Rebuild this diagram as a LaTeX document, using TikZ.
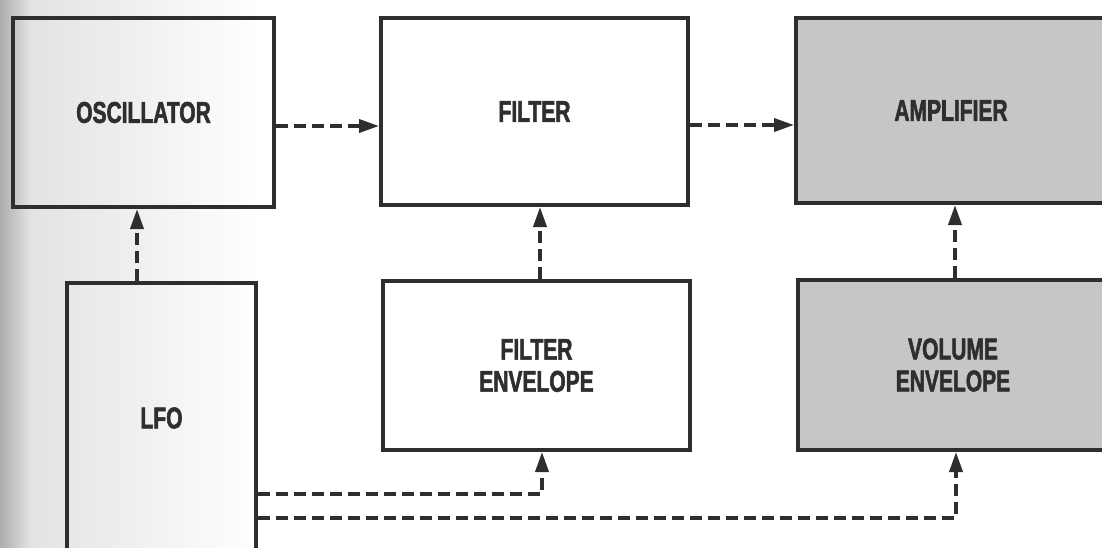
\documentclass[tikz,border=0pt]{standalone}
\usepackage{fontspec}
\newfontfamily\labfont[FakeStretch=0.70,FakeBold=1.8]{Liberation Sans}
\usetikzlibrary{arrows.meta}
\definecolor{ink}{HTML}{2E2E2E}
\definecolor{shade}{HTML}{C6C6C6}
\tikzset{
  box/.style={draw=ink, line width=4pt, rectangle, inner sep=0pt, align=center,
    font=\labfont\bfseries\fontsize{30}{32}\selectfont, text=ink},
  graybox/.style={box, fill=shade},
  conn/.style={draw=ink, line width=3.6pt, dash pattern=on 12pt off 6pt,
    -{Triangle[length=20pt,width=13pt]}}
}
\begin{document}
\begin{tikzpicture}[x=1pt,y=-1pt]
\clip (0,0) rectangle (1102,547);
\fill[white] (0,0) rectangle (1102,547);
% scan shading at the left edge
\shade[left color=gray!65, right color=gray!22] (0,0) rectangle (30,547);
\shade[left color=gray!22, right color=white] (30,0) rectangle (260,547);
% boxes
\node[box, minimum width=261pt, minimum height=189pt] (osc) at (143.5,112.5) {OSCILLATOR};
\node[box, fill=white, minimum width=307pt, minimum height=187pt] (filt) at (534.5,111.5) {FILTER};
\node[graybox, minimum width=310pt, minimum height=185pt] (amp) at (951,110.5) {AMPLIFIER};
\node[box, minimum width=189pt, minimum height=270pt] (lfo) at (161.5,418) {LFO};
\node[box, fill=white, minimum width=307pt, minimum height=169pt] (fenv) at (536.5,365.5) {FILTER\\ENVELOPE};
\node[graybox, minimum width=310pt, minimum height=170pt] (venv) at (953,365) {VOLUME\\ENVELOPE};
% connectors
\draw[conn] (osc.east |- 0,126) -- (filt.west |- 0,126);
\draw[conn] (filt.east |- 0,125) -- (amp.west |- 0,125);
\draw[conn] (lfo.north -| 137,0) -- (osc.south -| 137,0);
\draw[conn] (fenv.north -| 540,0) -- (filt.south -| 540,0);
\draw[conn] (venv.north -| 955,0) -- (amp.south -| 955,0);
\draw[conn] (lfo.east |- 0,494) -| (fenv.south -| 542,0);
\draw[conn] (lfo.east |- 0,518) -| (venv.south -| 956,0);
\end{tikzpicture}
\end{document}
